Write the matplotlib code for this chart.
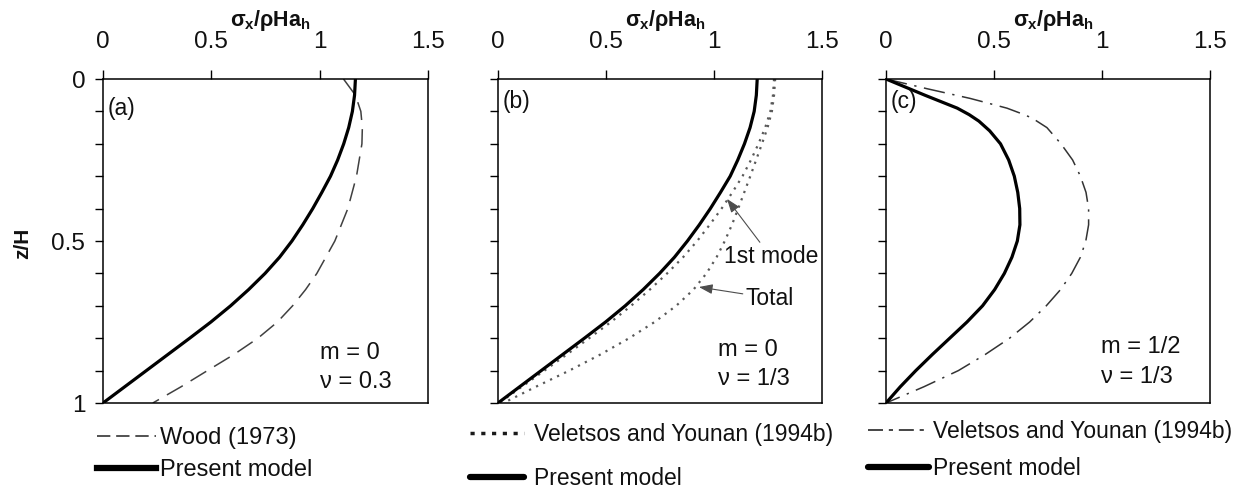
import matplotlib
matplotlib.use('Agg')
import matplotlib.pyplot as plt
from matplotlib.lines import Line2D

plt.rcParams['font.family'] = ['Liberation Sans', 'DejaVu Sans']
plt.rcParams['mathtext.fontset'] = 'custom'
plt.rcParams['mathtext.rm'] = 'Liberation Sans:bold'
plt.rcParams['mathtext.it'] = 'Liberation Sans:bold'
plt.rcParams['mathtext.bf'] = 'Liberation Sans:bold'

# ---------------- data ----------------
x_ticks = [0, 0.5, 1, 1.5]
x_tick_labels = ['0', '0.5', '1', '1.5']
y_ticks = [0, 0.1, 0.2, 0.3, 0.4, 0.5, 0.6, 0.7, 0.8, 0.9, 1.0]
y_tick_labels = ['0', '', '', '', '', '0.5', '', '', '', '', '1']

# Panel (a): m = 0, nu = 0.3
z_a = [0, 0.05, 0.1, 0.15, 0.2, 0.25, 0.3, 0.35, 0.4, 0.45, 0.5, 0.55, 0.6,
       0.65, 0.7, 0.75, 0.8, 0.85, 0.9, 0.95, 1.0]
present_a = [1.165, 1.161, 1.151, 1.134, 1.111, 1.083, 1.05, 1.01, 0.968, 0.922,
             0.872, 0.815, 0.748, 0.672, 0.589, 0.498, 0.4, 0.3, 0.2, 0.1, 0.0]
z_wood = [0, 0.05, 0.1, 0.15, 0.2, 0.3, 0.4, 0.5, 0.6, 0.65, 0.7, 0.75, 0.8,
          0.85, 0.9, 0.95, 1.0]
wood_a = [1.11, 1.165, 1.19, 1.197, 1.195, 1.17, 1.13, 1.07, 0.987, 0.935,
          0.875, 0.805, 0.715, 0.605, 0.482, 0.36, 0.23]

# Panel (b): m = 0, nu = 1/3
z_b = [0, 0.05, 0.1, 0.15, 0.2, 0.25, 0.3, 0.35, 0.4, 0.45, 0.5, 0.55, 0.6,
       0.65, 0.7, 0.75, 0.8, 0.85, 0.9, 0.95, 1.0]
present_b = [1.2, 1.196, 1.186, 1.167, 1.141, 1.11, 1.075, 1.03, 0.983, 0.932,
             0.877, 0.817, 0.748, 0.672, 0.589, 0.498, 0.4, 0.3, 0.2, 0.1, 0.0]
vy_first_b = [1.278, 1.273, 1.261, 1.237, 1.206, 1.171, 1.132, 1.085, 1.035, 0.98,
              0.922, 0.857, 0.783, 0.703, 0.616, 0.523, 0.422, 0.319, 0.215, 0.11, 0.005]
vy_total_b = [1.283, 1.278, 1.268, 1.248, 1.222, 1.195, 1.168, 1.14, 1.112, 1.083,
              1.05, 1.012, 0.965, 0.905, 0.825, 0.725, 0.607, 0.475, 0.33, 0.175, 0.025]

# Panel (c): m = 1/2, nu = 1/3
z_c = [0, 0.05, 0.09, 0.11, 0.13, 0.16, 0.2, 0.25, 0.3, 0.35, 0.4, 0.45, 0.5,
       0.55, 0.6, 0.65, 0.7, 0.75, 0.8, 0.85, 0.9, 0.95, 1.0]
present_c = [0, 0.18, 0.33, 0.385, 0.43, 0.48, 0.53, 0.568, 0.594, 0.61, 0.619,
             0.62, 0.608, 0.583, 0.548, 0.503, 0.447, 0.375, 0.295, 0.215, 0.138,
             0.066, 0]
z_cv = [0, 0.03, 0.06, 0.09, 0.105, 0.12, 0.15, 0.2, 0.25, 0.3, 0.35, 0.4, 0.45,
        0.5, 0.55, 0.6, 0.65, 0.7, 0.75, 0.8, 0.85, 0.9, 0.95, 1.0]
vy_c = [0, 0.19, 0.39, 0.56, 0.62, 0.675, 0.745, 0.81, 0.864, 0.9, 0.926, 0.938,
        0.938, 0.925, 0.9, 0.86, 0.808, 0.742, 0.665, 0.572, 0.46, 0.335, 0.175, 0]

# ---------------- figure ----------------
W, H = 1245, 488
fig = plt.figure(figsize=(W / 100, H / 100), dpi=100)


def frac(l, r, t, b):
    return [l / W, 1 - b / H, (r - l) / W, (b - t) / H]


ax_a = fig.add_axes(frac(103, 428, 79, 403))
ax_b = fig.add_axes(frac(498, 822, 79, 403))
ax_c = fig.add_axes(frac(886, 1210, 79, 403))

FS = 17
TXT = '#111111'


def style(ax, show_ylabels):
    ax.set_xlim(0, 1.5)
    ax.set_ylim(1, 0)
    ax.xaxis.tick_top()
    ax.set_xticks(x_ticks)
    ax.set_xticklabels(x_tick_labels)
    ax.set_yticks(y_ticks)
    ax.set_yticklabels(y_tick_labels if show_ylabels else [''] * len(y_ticks))
    ax.tick_params(axis='x', direction='out', length=6.5, width=1.0, pad=12,
                   labelsize=17.5, top=True, bottom=False, labelcolor=TXT)
    ax.tick_params(axis='y', direction='out', length=5.8, width=1.0, pad=7,
                   labelsize=17.5, left=True, right=False, labelcolor=TXT)
    for s in ax.spines.values():
        s.set_linewidth(1.1)
    ax.text(0.515, 1.165, r'$\sigma_x/\rho Ha_h$', transform=ax.transAxes,
            ha='center', va='baseline', fontsize=15.5, color=TXT)


for ax in (ax_a, ax_b, ax_c):
    style(ax, ax is ax_a)

present_style = dict(color='black', lw=2.3, solid_capstyle='round',
                     solid_joinstyle='round')

# (a)
ax_a.plot(wood_a, z_wood, color='0.25', lw=1.1, dashes=(12, 6))
ax_a.plot(present_a, z_a, **present_style)
ax_a.text(0.022, 0.09, '(a)', fontsize=16.5, va='center', ha='left', color=TXT)
ax_a.text(1.0, 0.846, 'm = 0', fontsize=17, va='center', ha='left', color=TXT)
ax_a.text(1.0, 0.935, 'ν = 0.3', fontsize=17, va='center', ha='left', color=TXT)
h_a = [Line2D([], [], color='0.2', lw=1.2, dashes=(8, 3.5)),
       Line2D([], [], color='black', lw=4.5)]
ax_a.legend(h_a, ['Wood (1973)', 'Present model'], loc='upper left',
            bbox_to_anchor=(-0.018, -0.075), frameon=False, handlelength=2.5,
            handletextpad=0.15, labelspacing=0.42, borderpad=0, borderaxespad=0,
            fontsize=FS, labelcolor=TXT)

# (b)
dot_style = dict(color='0.35', lw=1.6, dashes=(1, 2.5))
ax_b.plot(vy_total_b, z_b, **dot_style)
ax_b.plot(vy_first_b, z_b, **dot_style)
ax_b.plot(present_b, z_b, **present_style)
ax_b.text(0.022, 0.07, '(b)', fontsize=16.5, va='center', ha='left', color=TXT)
ax_b.text(1.02, 0.835, 'm = 0', fontsize=17, va='center', ha='left', color=TXT)
ax_b.text(1.02, 0.925, 'ν = 1/3', fontsize=17, va='center', ha='left', color=TXT)
arrow = dict(arrowstyle='-|>,head_length=0.5,head_width=0.18', color='0.3', lw=0.8,
             shrinkA=0, shrinkB=0)
ax_b.annotate('1st mode', xy=(1.06, 0.37), xytext=(1.044, 0.548),
              fontsize=16.5, va='center', ha='left', color=TXT, arrowprops=arrow)
ax_b.annotate('Total', xy=(0.93, 0.642), xytext=(1.146, 0.676),
              fontsize=16.5, va='center', ha='left', color=TXT, arrowprops=arrow)
h_b = [Line2D([], [], color='0.1', lw=2.5, dashes=(1.2, 1.9)),
       Line2D([], [], color='black', lw=4.5, solid_capstyle='round')]
ax_b.legend(h_b, ['Veletsos and Younan (1994b)', 'Present model'], loc='upper left',
            bbox_to_anchor=(-0.087, -0.063), frameon=False, handlelength=2.35,
            handletextpad=0.45, labelspacing=0.9, borderpad=0, borderaxespad=0,
            fontsize=16.5, labelcolor=TXT)

# (c)
ax_c.plot(vy_c, z_cv, color='0.2', lw=1.1, dashes=(14, 5, 1.5, 5))
ax_c.plot(present_c, z_c, **present_style)
ax_c.text(0.022, 0.07, '(c)', fontsize=16.5, va='center', ha='left', color=TXT)
ax_c.text(0.997, 0.827, 'm = 1/2', fontsize=17, va='center', ha='left', color=TXT)
ax_c.text(0.997, 0.92, 'ν = 1/3', fontsize=17, va='center', ha='left', color=TXT)
h_c = [Line2D([], [], color='0.15', lw=1.2, dashes=(9, 3.5, 2.5, 3.5)),
       Line2D([], [], color='black', lw=4.5, solid_capstyle='round')]
ax_c.legend(h_c, ['Veletsos and Younan (1994b)', 'Present model'], loc='upper left',
            bbox_to_anchor=(-0.057, -0.052), frameon=False, handlelength=2.7,
            handletextpad=0.15, labelspacing=0.6, borderpad=0, borderaxespad=0,
            fontsize=16.5, labelcolor=TXT)

fig.text(23 / W, 1 - 243 / H, 'z/H', rotation=90, fontweight='bold', fontsize=15,
         ha='center', va='center', color=TXT)

fig.savefig('out.png', dpi=100)
